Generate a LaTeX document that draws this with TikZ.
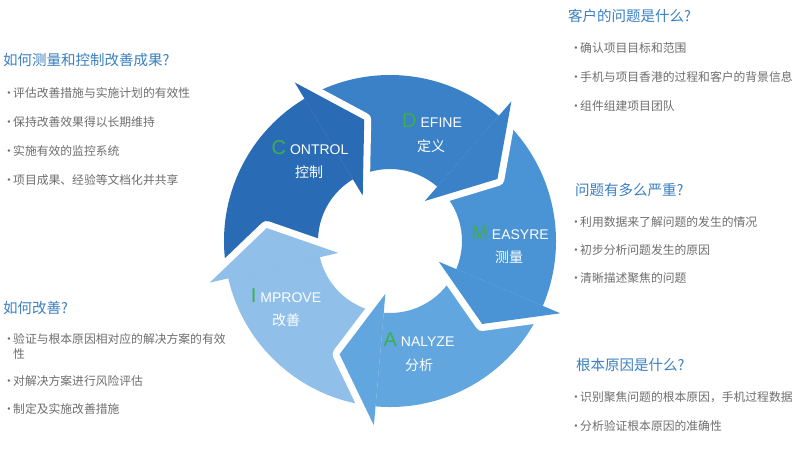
\documentclass[tikz,border=0pt]{standalone}
\usepackage{fontspec}
\setmainfont{Noto Sans CJK SC}
\newfontfamily\lat{Liberation Sans}
\definecolor{cC}{HTML}{2A6BB5}
\definecolor{cD}{HTML}{3A81C7}
\definecolor{cM}{HTML}{4A94D5}
\definecolor{cA}{HTML}{62A6DF}
\definecolor{cI}{HTML}{90C0EA}
\definecolor{grn}{HTML}{3DB04A}
\definecolor{hblue}{HTML}{3A80C0}
\definecolor{tgray}{HTML}{6E6E6E}
\newcommand\bdot{\makebox[10pt][l]{·}}
\tikzset{
  hd/.style={anchor=west, inner sep=0pt, text=hblue, font=\fontsize{14.5}{17}\selectfont},
  bl/.style={anchor=west, inner sep=0pt, text=tgray, font=\fontsize{11.8}{14}\selectfont},
  en/.style={inner sep=0pt, text=white, font=\lat\fontsize{14}{16}\selectfont},
  zh/.style={inner sep=0pt, text=white, font=\fontsize{14}{16}\selectfont},
}
\newcommand\gl[1]{{\fontsize{20}{20}\selectfont\color{grn}#1}\hspace{4pt}}
\begin{document}
\begin{tikzpicture}[x=1pt,y=1pt]
\useasboundingbox (0,0) rectangle (800,-448);
\fill[white] (0,0) rectangle (800,-448);
\begin{scope}[shift={(390,-241)}]
\foreach \b/\c in {121/cC, 49/cD, -23/cM, -95/cA, -167/cI} {
  \fill[\c] ({\b+72}:166) arc[start angle=\b+72, end angle=\b, radius=166]
     -- (\b:72) arc[start angle=\b, end angle=\b+72, radius=72] -- cycle;
}
\foreach \b/\c in {121/cC, 49/cD, -23/cM, -95/cA, -167/cI} {
  \draw[white, line width=14pt, line join=round] (\b:185) -- ({\b-19}:124) -- (\b:53);
  \fill[\c] (\b:185) -- ({\b-19}:124) -- (\b:53) -- cycle;
}
\end{scope}
% arrow labels
\node[en] (cen) at (310,-148) {\gl{C}ONTROL};
\node[zh] (czh) at (309,-172) {控制};
\node[en] (den) at (432,-121) {\gl{D}EFINE};
\node[zh] (dzh) at (431,-146) {定义};
\node[en] (men) at (510,-233) {\gl{M}EASYRE};
\node[zh] (mzh) at (509,-257) {测量};
\node[en] (aen) at (419,-340) {\gl{A}NALYZE};
\node[zh] (azh) at (419,-365) {分析};
\node[en] (ien) at (286,-296) {\gl{I}MPROVE};
\node[zh] (izh) at (286,-320) {改善};
% left block 1
\node[hd] (h1) at (3,-60) {如何测量和控制改善成果?};
\node[bl] (b11) at (3,-93) {\bdot 评估改善措施与实施计划的有效性};
\node[bl] (b12) at (3,-122) {\bdot 保持改善效果得以长期维持};
\node[bl] (b13) at (3,-151) {\bdot 实施有效的监控系统};
\node[bl] (b14) at (3,-180) {\bdot 项目成果、经验等文档化并共享};
% left block 2
\node[hd] (h2) at (3,-308) {如何改善?};
\node[bl] (b21) at (3,-339) {\bdot 验证与根本原因相对应的解决方案的有效};
\node[bl] (b21b) at (13,-354) {性};
\node[bl] (b22) at (3,-381) {\bdot 对解决方案进行风险评估};
\node[bl] (b23) at (3,-409) {\bdot 制定及实施改善措施};
% right block 1
\node[hd] (h3) at (568,-16) {客户的问题是什么?};
\node[bl] (b31) at (570,-48) {\bdot 确认项目目标和范围};
\node[bl] (b32) at (570,-77) {\bdot 手机与项目香港的过程和客户的背景信息};
\node[bl] (b33) at (570,-106) {\bdot 组件组建项目团队};
% right block 2
\node[hd] (h4) at (575,-190) {问题有多么严重?};
\node[bl] (b41) at (570,-222) {\bdot 利用数据来了解问题的发生的情况};
\node[bl] (b42) at (570,-250) {\bdot 初步分析问题发生的原因};
\node[bl] (b43) at (570,-278) {\bdot 清晰描述聚焦的问题};
% right block 3
\node[hd] (h5) at (576,-365) {根本原因是什么?};
\node[bl] (b51) at (570,-397) {\bdot 识别聚焦问题的根本原因，手机过程数据};
\node[bl] (b52) at (570,-426) {\bdot 分析验证根本原因的准确性};
\end{tikzpicture}
\end{document}
